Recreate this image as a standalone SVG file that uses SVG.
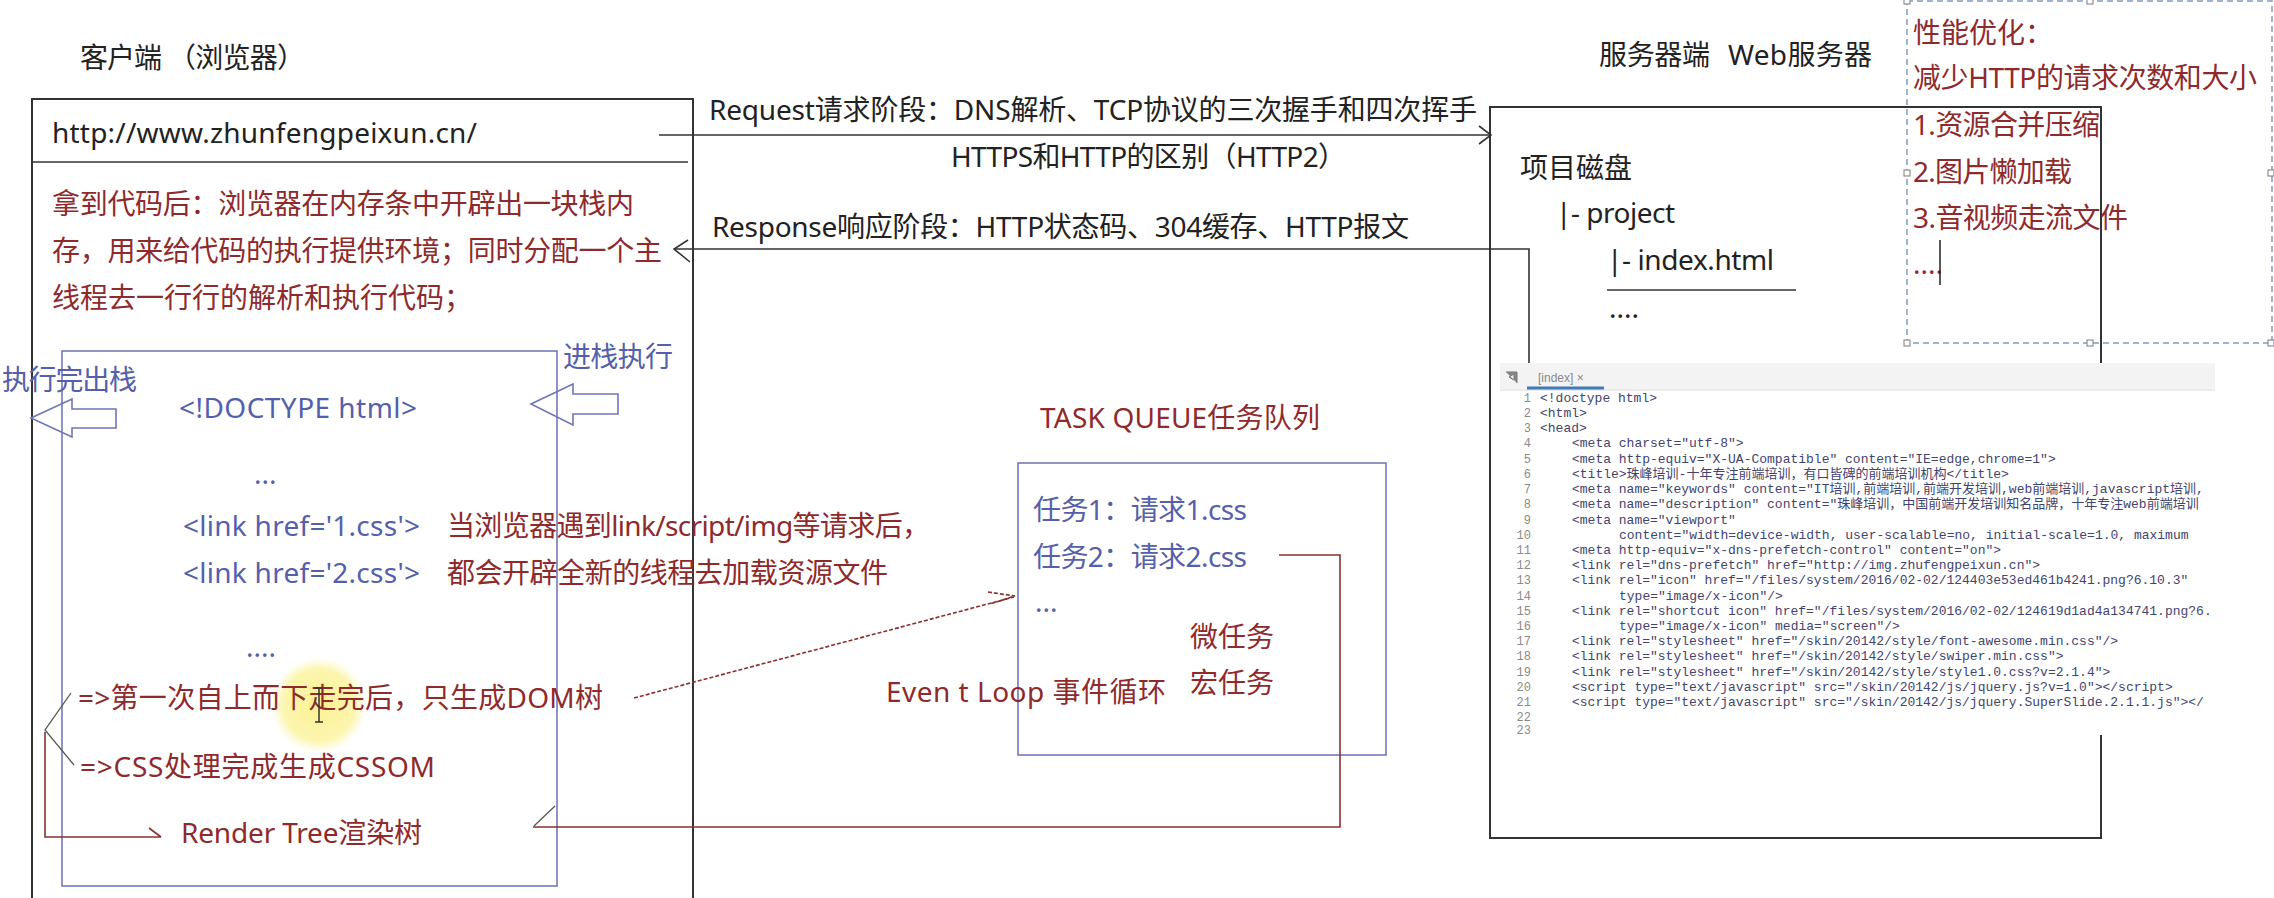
<svg xmlns="http://www.w3.org/2000/svg" width="2274" height="898" viewBox="0 0 2274 898">
<defs>
<style>
.t{font-family:'Noto Sans','Noto Sans CJK SC',sans-serif;font-size:28px}
.blk{fill:#222}
.red{fill:#8f2a2c}
.blue{fill:#5560ac}
.box{fill:none;stroke:#333;stroke-width:2}
.bbox{fill:none;stroke:#7478b8;stroke-width:1.6}
.ln{fill:none;stroke:#333;stroke-width:1.6}
.rln{fill:none;stroke:#8a2f30;stroke-width:1.6}
.gln{fill:none;stroke:#555;stroke-width:1.3}
.harrow{fill:none;stroke:#6f76b8;stroke-width:1.6}
.code{font-family:'Liberation Mono','Noto Sans CJK SC',monospace;font-size:13px;fill:#3f4470}
.num{font-family:'Liberation Mono',monospace;font-size:12px;fill:#8a8a8a;text-anchor:end}
.hd{fill:#fff;stroke:#7a7a7a;stroke-width:1}
</style>
<radialGradient id="hl" cx="0.5" cy="0.5" r="0.5">
<stop offset="0" stop-color="#fbf08a" stop-opacity="0.95"/>
<stop offset="0.75" stop-color="#fcf39c" stop-opacity="0.8"/>
<stop offset="1" stop-color="#fdf6b0" stop-opacity="0"/>
</radialGradient>
<clipPath id="codeclip"><rect x="1500" y="363" width="715" height="372"/></clipPath>
</defs>
<rect width="2274" height="898" fill="#fff"/>

<g id="client">
<text class="t blk" x="80" y="68" font-size="27" textLength="82">客户端</text>
<text class="t blk" x="168" y="68" font-size="27" textLength="137">（浏览器）</text>
<path class="box" d="M32,905 V99 H693 V905"/>
<line class="ln" x1="32" y1="162" x2="688" y2="162"/>
<text class="t blk" x="52" y="143" textLength="425">http://www.zhunfengpeixun.cn/</text>
<text class="t red" x="52" y="214" textLength="582">拿到代码后：浏览器在内存条中开辟出一块栈内</text>
<text class="t red" x="52" y="261" textLength="610">存，用来给代码的执行提供环境；同时分配一个主</text>
<text class="t red" x="52" y="308">线程去一行行的解析和执行代码；</text>
</g>

<g id="stack">
<circle cx="319" cy="705" r="48" fill="url(#hl)"/>
<rect class="bbox" x="62" y="351" width="495" height="535"/>
<text class="t blue" x="2" y="390" textLength="135">执行完出栈</text>
<text class="t blue" x="563" y="367" textLength="110">进栈执行</text>
<polygon class="harrow" points="31,418 72,399 72,409 116,409 116,428 72,428 72,437"/>
<polygon class="harrow" points="531,404 573,384 573,394 618,394 618,414 573,414 573,425"/>
<text class="t blue" x="179" y="418" textLength="238">&lt;!DOCTYPE html&gt;</text>
<text class="t blue" x="254" y="484">...</text>
<text class="t blue" x="183" y="536" textLength="237">&lt;link href='1.css'&gt;</text>
<text class="t blue" x="183" y="583" textLength="237">&lt;link href='2.css'&gt;</text>
<text class="t blue" x="246" y="657">....</text>
<text class="t red" x="447" y="536" textLength="483">当浏览器遇到link/script/img等请求后，</text>
<text class="t red" x="447" y="583" textLength="441">都会开辟全新的线程去加载资源文件</text>
<text class="t red" x="78" y="708" textLength="525">=&gt;第一次自上而下走完后，只生成DOM树</text>
<text class="t red" x="80" y="777" textLength="355">=&gt;CSS处理完成生成CSSOM</text>
<text class="t red" x="181" y="843" textLength="241">Render Tree渲染树</text>
<path d="M315,688 H323 M319,688 V722 M315,722 H323" fill="none" stroke="#333" stroke-width="1.5"/>
</g>

<g id="http-notes">
<text class="t blk" x="709" y="120" textLength="768">Request请求阶段：DNS解析、TCP协议的三次握手和四次挥手</text>
<text class="t blk" x="951" y="167" textLength="395">HTTPS和HTTP的区别（HTTP2）</text>
<text class="t blk" x="712" y="237" textLength="697">Response响应阶段：HTTP状态码、304缓存、HTTP报文</text>
</g>

<g id="taskqueue">
<text class="t red" x="1040" y="428" textLength="280">TASK QUEUE任务队列</text>
<rect class="bbox" x="1018" y="463" width="368" height="292"/>
<text class="t blue" x="1033" y="520" textLength="214">任务1：请求1.css</text>
<text class="t blue" x="1033" y="567" textLength="214">任务2：请求2.css</text>
<text class="t blue" x="1035" y="612">...</text>
<text class="t red" x="1190" y="647">微任务</text>
<text class="t red" x="1190" y="693">宏任务</text>
<text class="t red" x="886" y="702" textLength="280">Even  t Loop 事件循环</text>
</g>

<g id="server">
<text class="t blk" x="1599" y="65" textLength="111">服务器端</text>
<text class="t blk" x="1728" y="65" textLength="144">Web服务器</text>
<rect class="box" x="1490" y="107" width="611" height="731"/>
<text class="t blk" x="1520" y="178" textLength="112">项目磁盘</text>
<text class="t blk" x="1556" y="223" textLength="119">|- project</text>
<text class="t blk" x="1607" y="270" textLength="167">|- index.html</text>
<line class="ln" x1="1607" y1="290" x2="1796" y2="290"/>
<text class="t blk" x="1609" y="318">....</text>
</g>

<g id="perf">
<rect x="1907" y="1" width="365" height="342" fill="none" stroke="#7f9fc2" stroke-width="1.5" stroke-dasharray="6 4"/>
<rect class="hd" x="1904" y="-2" width="6" height="6"/>
<rect class="hd" x="2087" y="-2" width="6" height="6"/>
<rect class="hd" x="1904" y="170" width="6" height="6"/>
<rect class="hd" x="2268" y="170" width="6" height="6"/>
<rect class="hd" x="1904" y="340" width="6" height="6"/>
<rect class="hd" x="2087" y="340" width="6" height="6"/>
<rect class="hd" x="2268" y="340" width="6" height="6"/>
<text class="t red" x="1913" y="43">性能优化：</text>
<text class="t red" x="1913" y="88" textLength="344">减少HTTP的请求次数和大小</text>
<text class="t red" x="1913" y="135" textLength="187">1.资源合并压缩</text>
<text class="t red" x="1913" y="182" textLength="159">2.图片懒加载</text>
<text class="t red" x="1913" y="228" textLength="215">3.音视频走流文件</text>
<text class="t red" x="1913" y="274">....</text>
<line x1="1940" y1="240" x2="1940" y2="285" stroke="#222" stroke-width="1.5"/>
</g>

<g id="connectors">
<line class="ln" x1="659" y1="135" x2="1491" y2="135"/>
<polyline class="ln" points="1479,126 1491,135 1479,144"/>
<polyline class="ln" points="1529,365 1529,249 674,249"/>
<polyline class="ln" points="688,240 674,249 690,262"/>
<polyline class="gln" points="71,693 45,730 74,765"/>
<polyline class="rln" points="45,732 45,837 161,837"/>
<polyline class="rln" points="149,828 161,837"/>
<line class="rln" x1="634" y1="698" x2="1014" y2="597" stroke-dasharray="4 2"/>
<polyline class="rln" points="988,592 1015,596 990,604" stroke-dasharray="4 2"/>
<polyline class="rln" points="1279,555 1340,555 1340,827 533,827"/>
<line class="gln" x1="534" y1="826" x2="555" y2="806"/>
</g>

<g id="code-screenshot">
<rect x="1500" y="363" width="715" height="372" fill="#fff"/>
<rect x="1500" y="363" width="715" height="26" fill="#f3f3f4"/>
<line x1="1500" y1="390" x2="2215" y2="390" stroke="#d6d6d8" stroke-width="1"/>
<line x1="1527" y1="388" x2="1604" y2="388" stroke="#3e7bb6" stroke-width="3"/>
<path d="M1506,372 H1517 V383 M1514,374 L1509,377 L1514,380 Z" fill="#888" stroke="#777" stroke-width="1"/>
<text x="1538" y="382" font-family="'Liberation Sans',sans-serif" font-size="12" fill="#8a8a8a">[index] ×</text>
<g clip-path="url(#codeclip)">
<text class="num" x="1531" y="402">1</text>
<text class="num" x="1531" y="417">2</text>
<text class="num" x="1531" y="432">3</text>
<text class="num" x="1531" y="447">4</text>
<text class="num" x="1531" y="463">5</text>
<text class="num" x="1531" y="478">6</text>
<text class="num" x="1531" y="493">7</text>
<text class="num" x="1531" y="508">8</text>
<text class="num" x="1531" y="524">9</text>
<text class="num" x="1531" y="539">10</text>
<text class="num" x="1531" y="554">11</text>
<text class="num" x="1531" y="569">12</text>
<text class="num" x="1531" y="584">13</text>
<text class="num" x="1531" y="600">14</text>
<text class="num" x="1531" y="615">15</text>
<text class="num" x="1531" y="630">16</text>
<text class="num" x="1531" y="645">17</text>
<text class="num" x="1531" y="660">18</text>
<text class="num" x="1531" y="676">19</text>
<text class="num" x="1531" y="691">20</text>
<text class="num" x="1531" y="706">21</text>
<text class="num" x="1531" y="721">22</text>
<text class="num" x="1531" y="734">23</text>
<text class="code" x="1540" y="402" fill="#b4b4b8">&lt;!doctype html&gt;</text>
<text class="code" x="1540" y="417">&lt;html&gt;</text>
<text class="code" x="1540" y="432">&lt;head&gt;</text>
<text class="code" x="1572" y="447">&lt;meta charset="utf-8"&gt;</text>
<text class="code" x="1572" y="463">&lt;meta http-equiv="X-UA-Compatible" content="IE=edge,chrome=1"&gt;</text>
<text class="code" x="1572" y="478">&lt;title&gt;珠峰培训-十年专注前端培训，有口皆碑的前端培训机构&lt;/title&gt;</text>
<text class="code" x="1572" y="493">&lt;meta name="keywords" content="IT培训,前端培训,前端开发培训,web前端培训,javascript培训,</text>
<text class="code" x="1572" y="508">&lt;meta name="description" content="珠峰培训，中国前端开发培训知名品牌，十年专注web前端培训</text>
<text class="code" x="1572" y="524">&lt;meta name="viewport"</text>
<text class="code" x="1619" y="539">content="width=device-width, user-scalable=no, initial-scale=1.0, maximum</text>
<text class="code" x="1572" y="554">&lt;meta http-equiv="x-dns-prefetch-control" content="on"&gt;</text>
<text class="code" x="1572" y="569">&lt;link rel="dns-prefetch" href="http://img.zhufengpeixun.cn"&gt;</text>
<text class="code" x="1572" y="584">&lt;link rel="icon" href="/files/system/2016/02-02/124403e53ed461b4241.png?6.10.3"</text>
<text class="code" x="1619" y="600">type="image/x-icon"/&gt;</text>
<text class="code" x="1572" y="615">&lt;link rel="shortcut icon" href="/files/system/2016/02-02/124619d1ad4a134741.png?6.</text>
<text class="code" x="1619" y="630">type="image/x-icon" media="screen"/&gt;</text>
<text class="code" x="1572" y="645">&lt;link rel="stylesheet" href="/skin/20142/style/font-awesome.min.css"/&gt;</text>
<text class="code" x="1572" y="660">&lt;link rel="stylesheet" href="/skin/20142/style/swiper.min.css"&gt;</text>
<text class="code" x="1572" y="676">&lt;link rel="stylesheet" href="/skin/20142/style/style1.0.css?v=2.1.4"&gt;</text>
<text class="code" x="1572" y="691">&lt;script type="text/javascript" src="/skin/20142/js/jquery.js?v=1.0"&gt;&lt;/script&gt;</text>
<text class="code" x="1572" y="706">&lt;script type="text/javascript" src="/skin/20142/js/jquery.SuperSlide.2.1.1.js"&gt;&lt;/</text>
</g>
</g>
</svg>
